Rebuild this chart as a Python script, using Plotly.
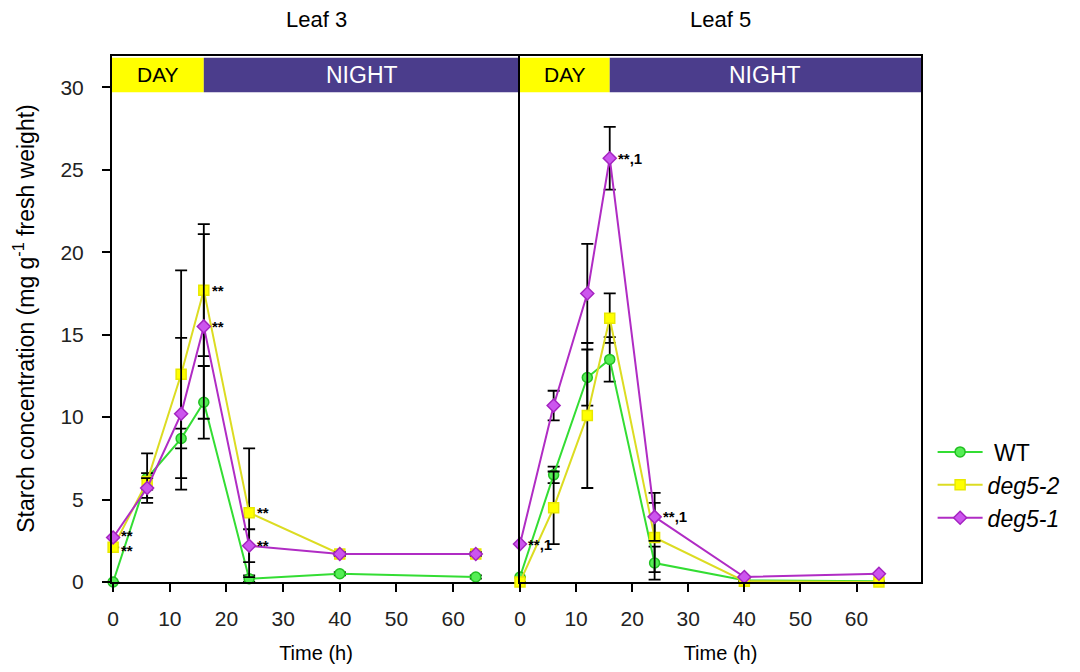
import plotly.graph_objects as go

# ---- data ----
time_h = [0, 6, 12, 16, 24, 40, 64]

leaf3_wt = [0.0, 6.3, 8.7, 10.9, 0.2, 0.5, 0.3]
leaf3_wt_err = [0.0, 1.5, 0.6, 2.2, 0.2, 0.1, 0.1]
leaf3_deg52 = [2.1, 6.1, 12.6, 17.7, 4.2, 1.7, 1.7]
leaf3_deg52_err = [0.0, 0.5, 6.3, 4.0, 3.9, 0.1, 0.1]
leaf3_deg51 = [2.7, 5.7, 10.2, 15.5, 2.2, 1.7, 1.7]
leaf3_deg51_err = [0.0, 0.6, 4.6, 5.6, 1.0, 0.1, 0.1]

leaf5_wt = [0.3, 6.5, 12.4, 13.5, 1.15, 0.1, 0.05]
leaf5_wt_err = [0.0, 0.5, 1.7, 1.35, 1.0, 0.1, 0.0]
leaf5_deg52 = [0.0, 4.5, 10.1, 16.0, 2.7, 0.05, 0.0]
leaf5_deg52_err = [0.0, 2.2, 4.4, 1.5, 2.1, 0.0, 0.0]
leaf5_deg51 = [2.3, 10.7, 17.5, 25.7, 3.95, 0.3, 0.5]
leaf5_deg51_err = [0.0, 0.9, 3.0, 1.9, 1.45, 0.0, 0.0]

panel_titles = ["Leaf 3", "Leaf 5"]
series_names = [" WT", "<i>deg5-2</i>", "<i>deg5-1</i>"]
day_end = 16
x_max = [71.8, 71.5]
x_min = [-0.2, 0.0]
band_lo, band_hi = 29.7, 31.8

# significance labels: (panel, series index, point index, text, vertical nudge px)
sig_labels = [
    (0, 2, 0, "**", 2), (0, 1, 0, "**", -3),
    (0, 1, 3, "**", 0), (0, 2, 3, "**", 0),
    (0, 1, 4, "**", 0), (0, 2, 4, "**", 0),
    (1, 2, 0, "**,1", 0), (1, 2, 3, "**,1", 0), (1, 2, 4, "**,1", 0),
]

# ---- styles ----
FONT = "Arial, Liberation Sans, sans-serif"
styles = [
    dict(line="#33dd33", fill="#55ee55", edge="#22c022", symbol="circle", size=10),
    dict(line="#dcdc22", fill="#ffff00", edge="#e8e800", symbol="square", size=10),
    dict(line="#b02cc4", fill="#cc55ee", edge="#a424c0", symbol="diamond", size=10),
]

panels = [
    [(leaf3_wt, leaf3_wt_err), (leaf3_deg52, leaf3_deg52_err), (leaf3_deg51, leaf3_deg51_err)],
    [(leaf5_wt, leaf5_wt_err), (leaf5_deg52, leaf5_deg52_err), (leaf5_deg51, leaf5_deg51_err)],
]

fig = go.Figure()
for p, panel in enumerate(panels):
    xa = "x" if p == 0 else "x2"
    ya = "y" if p == 0 else "y2"
    for s, (vals, errs) in enumerate(panel):
        st = styles[s]
        fig.add_trace(go.Scatter(
            x=time_h, y=vals, xaxis=xa, yaxis=ya,
            mode="lines+markers", name=series_names[s],
            showlegend=(p == 0), legendgroup=str(s),
            line=dict(color=st["line"], width=2),
            marker=dict(symbol=st["symbol"], size=st["size"], color=st["fill"],
                        line=dict(color=st["edge"], width=1.5)),
            error_y=dict(type="data", array=errs, visible=True, color="black",
                         thickness=1.8, width=6),
            cliponaxis=False,
        ))

shapes = []
annotations = []
for p in range(2):
    xr = "x" if p == 0 else "x2"
    yr = "y" if p == 0 else "y2"
    shapes.append(dict(type="rect", xref=xr, yref=yr, x0=x_min[p], x1=day_end,
                       y0=band_lo, y1=band_hi, fillcolor="#ffff00", line=dict(width=0),
                       layer="below"))
    shapes.append(dict(type="rect", xref=xr, yref=yr, x0=day_end, x1=x_max[p],
                       y0=band_lo, y1=band_hi, fillcolor="#4b3d8c", line=dict(width=0),
                       layer="below"))
    annotations.append(dict(xref=xr, yref=yr, x=(x_min[p] + day_end) / 2,
                            y=(band_lo + band_hi) / 2, text="DAY", showarrow=False,
                            font=dict(family=FONT, size=21, color="black")))
    annotations.append(dict(xref=xr, yref=yr, x=(day_end + x_max[p]) / 2,
                            y=(band_lo + band_hi) / 2, text="NIGHT", showarrow=False,
                            font=dict(family=FONT, size=23, color="white")))
    annotations.append(dict(xref=xr + " domain", yref="paper", x=0.5, y=1.0,
                            yshift=37, text=panel_titles[p], showarrow=False,
                            yanchor="middle",
                            font=dict(family=FONT, size=22, color="black")))

for p, s, i, txt, nudge in sig_labels:
    vals = panels[p][s][0]
    annotations.append(dict(xref="x" if p == 0 else "x2", yref="y" if p == 0 else "y2",
                            x=time_h[i], y=vals[i], text="<b>" + txt + "</b>",
                            showarrow=False, xanchor="left", xshift=6, yshift=nudge,
                            font=dict(family=FONT, size=15, color="black")))

annotations.append(dict(xref="paper", yref="paper", x=-0.109, y=0.502,
                        xanchor="center", yanchor="middle",
                        text="Starch concentration (mg g<sup>-1</sup> fresh weight)",
                        textangle=-90, showarrow=False,
                        font=dict(family=FONT, size=23, color="black")))

split = 408 / 809
axis_common = dict(showline=True, linecolor="black", linewidth=2,
                   showgrid=False, zeroline=False, automargin=False,
                   tickfont=dict(family=FONT, size=21, color="#222"))

fig.update_layout(
    width=1064, height=656,
    margin=dict(l=104, r=151, t=48, b=82, autoexpand=False),
    plot_bgcolor="white", paper_bgcolor="white",
    font=dict(family=FONT, color="black"),
    shapes=shapes, annotations=annotations,
    xaxis=dict(domain=[0, split], range=[x_min[0], x_max[0]], anchor="y", mirror=True,
               tickvals=[0, 10, 20, 30, 40, 50, 60], ticks="outside", ticklen=8,
               tickwidth=2, tickcolor="black", ticklabelstandoff=9,
               title=dict(text="Time (h)", font=dict(family=FONT, size=20), standoff=20),
               **axis_common),
    xaxis2=dict(domain=[split, 1], range=[x_min[1], x_max[1]], anchor="y2", mirror=True,
                tickvals=[0, 10, 20, 30, 40, 50, 60], ticks="outside", ticklen=8,
                tickwidth=2, tickcolor="black", ticklabelstandoff=9,
                title=dict(text="Time (h)", font=dict(family=FONT, size=20), standoff=20),
                **axis_common),
    yaxis=dict(range=[0, 31.9], anchor="x", tickvals=[0, 5, 10, 15, 20, 25, 30],
               ticks="outside", ticklen=8, tickwidth=2, tickcolor="black", mirror=False,
               ticklabelstandoff=14, **axis_common),
    yaxis2=dict(range=[0, 31.9], anchor="x2", showticklabels=False, ticks="", mirror=True,
                **axis_common),
    legend=dict(xref="container", yref="container", x=0.869, y=0.356,
                xanchor="left", yanchor="top",
                font=dict(family=FONT, size=23, color="black"),
                itemwidth=45, tracegroupgap=0, bgcolor="rgba(0,0,0,0)"),
)

fig.write_html("out.html")
